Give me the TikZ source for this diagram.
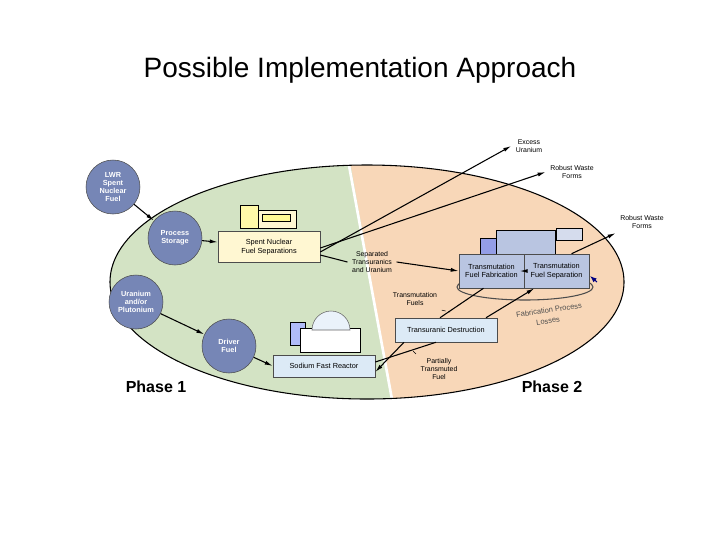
\documentclass[tikz,border=0pt]{standalone}
\usepackage{fontspec}
\setmainfont{Liberation Sans}
\usetikzlibrary{arrows.meta}
\definecolor{circ}{HTML}{7686B6}
\definecolor{grn}{HTML}{D3E3C4}
\definecolor{org}{HTML}{F8D7B8}
\definecolor{ylw}{HTML}{FFF7D2}
\definecolor{lbl}{HTML}{DCEAF6}
\definecolor{tbox}{HTML}{B9C5E1}
\begin{document}
\begin{tikzpicture}[x=0.75pt,y=-0.75pt,
  circ/.style={circle,draw=black!70,fill=circ,text=white,minimum size=54*0.75pt,inner sep=0pt,align=center,font=\fontsize{5.5}{6}\selectfont\bfseries},
  bx/.style={draw=black!70,align=center,font=\fontsize{5.5}{6.2}\selectfont,inner sep=0pt},
  lab/.style={align=center,font=\fontsize{5.2}{5.8}\selectfont},
  fp/.style={rotate=8,text=black!70,font=\fontsize{5.6}{6}\selectfont,inner sep=1pt},
  ar/.style={-{Latex[length=6pt,width=3pt]},thick},
  ln/.style={thick},
  dl/.style={densely dashed}]
\useasboundingbox (0,0) rectangle (720,540);
\node[font=\fontsize{21}{24}\selectfont] (title) at (360,70) {Possible Implementation Approach};
% ellipse halves
\begin{scope}
\clip (367,282) ellipse [x radius=257,y radius=117];
\fill[org] (100,150) rectangle (640,410);
\fill[grn] (100,150) -- (348,150) -- (394,410) -- (100,410) -- cycle;
\draw[white,line width=2pt] (348,160) -- (393,405);
\end{scope}
\draw[thick] (367,282) ellipse [x radius=257,y radius=117];
% buildings (decorative)
\draw[fill=ylw!80!yellow] (240,205) rectangle (258,228);
\draw[fill=ylw] (258,210) rectangle (296,228);
\draw[fill=ylw!70!yellow] (262,214) rectangle (290,221);
\draw[fill=lbl!80!blue] (290,322) rectangle (305,345);
\draw[fill=white] (300,328) rectangle (360,352);
\draw[fill=lbl!60!white,draw=black!60] (312,330) arc (180:360:19) -- cycle;
\draw[fill=tbox!80!blue] (480,238) rectangle (496,262);
\draw[fill=tbox] (496,230) rectangle (555,258);
\draw[fill=tbox!60] (556,228) rectangle (582,240);
\draw[thick,black!70] (525,287) ellipse [x radius=68,y radius=13];
% nodes
\node[circ] (lwr) at (113,187) {LWR\\Spent\\Nuclear\\Fuel};
\node[circ] (ps) at (175,238) {Process\\Storage};
\node[circ] (up) at (136,302) {Uranium\\and/or\\Plutonium};
\node[circ] (df) at (229,346) {Driver\\Fuel};
\node[bx,fill=ylw,minimum width=102*0.75pt,minimum height=31*0.75pt] (snf) at (269,247) {Spent Nuclear\\Fuel Separations};
\node[bx,fill=lbl,minimum width=102*0.75pt,minimum height=22*0.75pt] (sfr) at (324,366) {Sodium Fast Reactor};
\node[bx,fill=lbl,minimum width=102*0.75pt,minimum height=24*0.75pt] (td) at (446,330) {Transuranic Destruction};
\node[bx,fill=tbox,minimum width=65*0.75pt,minimum height=34*0.75pt] (tff) at (491.5,271) {Transmutation\\Fuel Fabrication};
\node[bx,fill=tbox,minimum width=65*0.75pt,minimum height=34*0.75pt] (tfs) at (556.5,271) {Transmutation\\Fuel Separation};
\draw[-{Latex[length=5pt]},blue!50!black,thick] (597,282) -- (590,276);
% labels
\node[lab] (eu) at (529,146) {Excess\\Uranium};
\node[lab] (rw1) at (572,172) {Robust Waste\\Forms};
\node[lab] (rw2) at (642,222) {Robust Waste\\Forms};
\node[lab] (stu) at (372,262) {Separated\\Transuranics\\and Uranium};
\node[lab] (tf) at (415,299) {Transmutation\\Fuels};
\node[lab] (ptf) at (439,369) {Partially\\Transmuted\\Fuel};
\node[fp] (fpl1) at (549,310) {Fabrication Process};
\node[fp] (fpl2) at (548,321) {Losses};
\node[font=\fontsize{12}{14}\selectfont\bfseries] (p1) at (156,387) {Phase 1};
\node[font=\fontsize{12}{14}\selectfont\bfseries] (p2) at (552,387) {Phase 2};
% connectors
\draw[ar] (lwr) -- (ps);
\draw[ar] (ps) -- (snf);
\draw[ar] (up) -- (df);
\draw[ar] (df) -- (sfr.west);
\draw[ar] ([yshift=-5*0.75pt]snf.east) -- (eu.west);
\draw[ar] ([yshift=-1*0.75pt]snf.east) -- (rw1.west);
\draw[ln] ([yshift=-8*0.75pt]snf.east) -- (stu.west);
\draw[ar] (stu.east) -- (tff.west);
\draw[ar] (tfs.west) -- ([xshift=-4*0.75pt]tfs.west);
\draw[ar] ([xshift=15*0.75pt]tfs.north) -- (rw2.south west);
\draw[ln] ([xshift=-8*0.75pt]tff.south) -- ([xshift=-6*0.75pt]td.north);
\draw[ar] ([xshift=40*0.75pt]td.north) -- ([xshift=-22*0.75pt]tfs.south);
\draw[ar] ([xshift=-42*0.75pt]td.south) -- ([yshift=-6*0.75pt]sfr.east);
\draw[ln] ([yshift=4*0.75pt]sfr.east) -- ([xshift=-10*0.75pt]td.south);
\draw[dl] (tf.south east) -- (450,312);
\draw[dl] (ptf.north west) -- (412,350);
\end{tikzpicture}
\end{document}
